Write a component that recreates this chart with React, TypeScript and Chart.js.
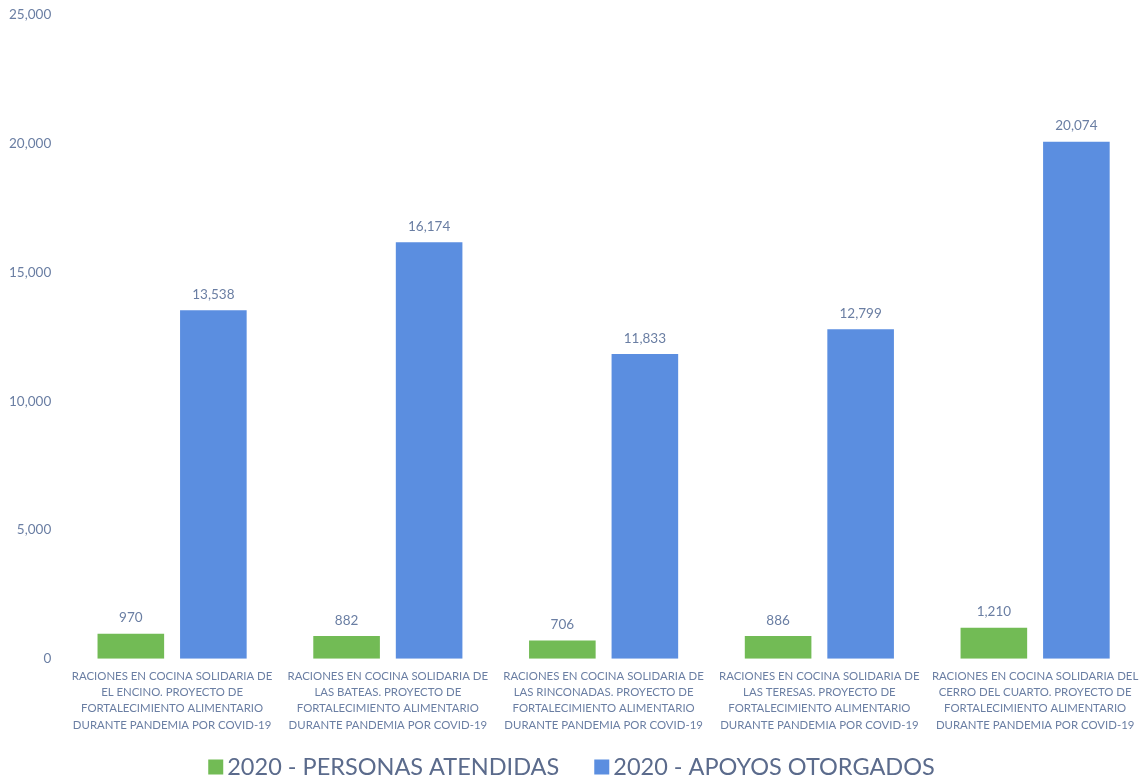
import React, { useEffect, useRef } from "react";
import { Chart, registerables } from "chart.js";

Chart.register(...registerables);

const categories: string[][] = [
  ["RACIONES EN COCINA SOLIDARIA DE", "EL ENCINO. PROYECTO DE", "FORTALECIMIENTO ALIMENTARIO", "DURANTE PANDEMIA POR COVID-19"],
  ["RACIONES EN COCINA SOLIDARIA DE", "LAS BATEAS. PROYECTO DE", "FORTALECIMIENTO ALIMENTARIO", "DURANTE PANDEMIA POR COVID-19"],
  ["RACIONES EN COCINA SOLIDARIA DE", "LAS RINCONADAS. PROYECTO DE", "FORTALECIMIENTO ALIMENTARIO", "DURANTE PANDEMIA POR COVID-19"],
  ["RACIONES EN COCINA SOLIDARIA DE", "LAS TERESAS. PROYECTO DE", "FORTALECIMIENTO ALIMENTARIO", "DURANTE PANDEMIA POR COVID-19"],
  ["RACIONES EN COCINA SOLIDARIA DEL", "CERRO DEL CUARTO. PROYECTO DE", "FORTALECIMIENTO ALIMENTARIO", "DURANTE PANDEMIA POR COVID-19"],
];
const personasAtendidas: number[] = [970, 882, 706, 886, 1210];
const apoyosOtorgados: number[] = [13538, 16174, 11833, 12799, 20074];
const seriesNames: string[] = ["2020 - PERSONAS ATENDIDAS", "2020 - APOYOS OTORGADOS"];

const TEXT = "#6a7ea3";
const LEGEND_TEXT = "#5b6b8c";
const FONT = "Lato, 'Open Sans', sans-serif";
const GREEN = "#72bb55";
const BLUE = "#5b8ee0";

const valueLabels = {
  id: "valueLabels",
  afterDatasetsDraw(chart: any) {
    const ctx = chart.ctx;
    ctx.save();
    ctx.fillStyle = TEXT;
    ctx.font = `13.5px ${FONT}`;
    ctx.textAlign = "center";
    ctx.textBaseline = "bottom";
    chart.data.datasets.forEach((ds: any, i: number) => {
      const meta = chart.getDatasetMeta(i);
      meta.data.forEach((el: any, j: number) => {
        ctx.fillText(ds.data[j].toLocaleString("en-US"), el.x, el.y - 9);
      });
    });
    ctx.restore();
  },
};

const bottomLegend = {
  id: "bottomLegend",
  afterDraw(chart: any) {
    const ctx = chart.ctx;
    ctx.save();
    ctx.font = `23.5px ${FONT}`;
    ctx.textBaseline = "middle";
    ctx.textAlign = "left";
    const box = 15;
    const gap = 4;
    const spacing = 35;
    const items = chart.data.datasets.map((ds: any) => ({
      text: ds.label,
      color: ds.backgroundColor,
      w: ctx.measureText(ds.label).width,
    }));
    let total = 0;
    items.forEach((it: any, i: number) => {
      total += box + gap + it.w + (i < items.length - 1 ? spacing : 0);
    });
    let x = chart.width / 2 - total / 2;
    const yc = 767;
    items.forEach((it: any) => {
      ctx.fillStyle = it.color;
      ctx.fillRect(x, yc - box / 2, box, box);
      x += box + gap;
      ctx.fillStyle = LEGEND_TEXT;
      ctx.fillText(it.text, x, yc);
      x += it.w + spacing;
    });
    ctx.restore();
  },
};

export default function App() {
  const ref = useRef<HTMLCanvasElement>(null);
  useEffect(() => {
    document.body.style.margin = "0";
    const chart = new Chart(ref.current!, {
      type: "bar",
      data: {
        labels: categories,
        datasets: [
          { label: seriesNames[0], data: personasAtendidas, backgroundColor: GREEN, barPercentage: 0.807, categoryPercentage: 0.765 },
          { label: seriesNames[1], data: apoyosOtorgados, backgroundColor: BLUE, barPercentage: 0.807, categoryPercentage: 0.765 },
        ],
      },
      options: {
        animation: false,
        responsive: false,
        maintainAspectRatio: false,
        layout: { padding: { top: 15, right: -12, left: 4, bottom: 44 } },
        plugins: {
          legend: { display: false },
          tooltip: { enabled: false },
        },
        scales: {
          x: {
            grid: { display: false },
            border: { display: false },
            ticks: {
              color: TEXT,
              font: { size: 11.4, family: FONT, lineHeight: 1.43 },
              maxRotation: 0,
              autoSkip: false,
              padding: 1,
            },
          },
          y: {
            min: 0,
            max: 25000,
            grid: { display: false },
            border: { display: false },
            ticks: {
              stepSize: 5000,
              color: TEXT,
              font: { size: 13.5, family: FONT },
              padding: 5,
              callback: (v: any) => Number(v).toLocaleString("en-US"),
            },
          },
        },
      },
      plugins: [valueLabels, bottomLegend],
    });
    return () => chart.destroy();
  }, []);
  return (
    <div style={{ position: "absolute", left: 0, top: 0, width: 1143, height: 778 }}>
      <canvas ref={ref} width={1143} height={778} style={{ width: 1143, height: 778 }} />
    </div>
  );
}
